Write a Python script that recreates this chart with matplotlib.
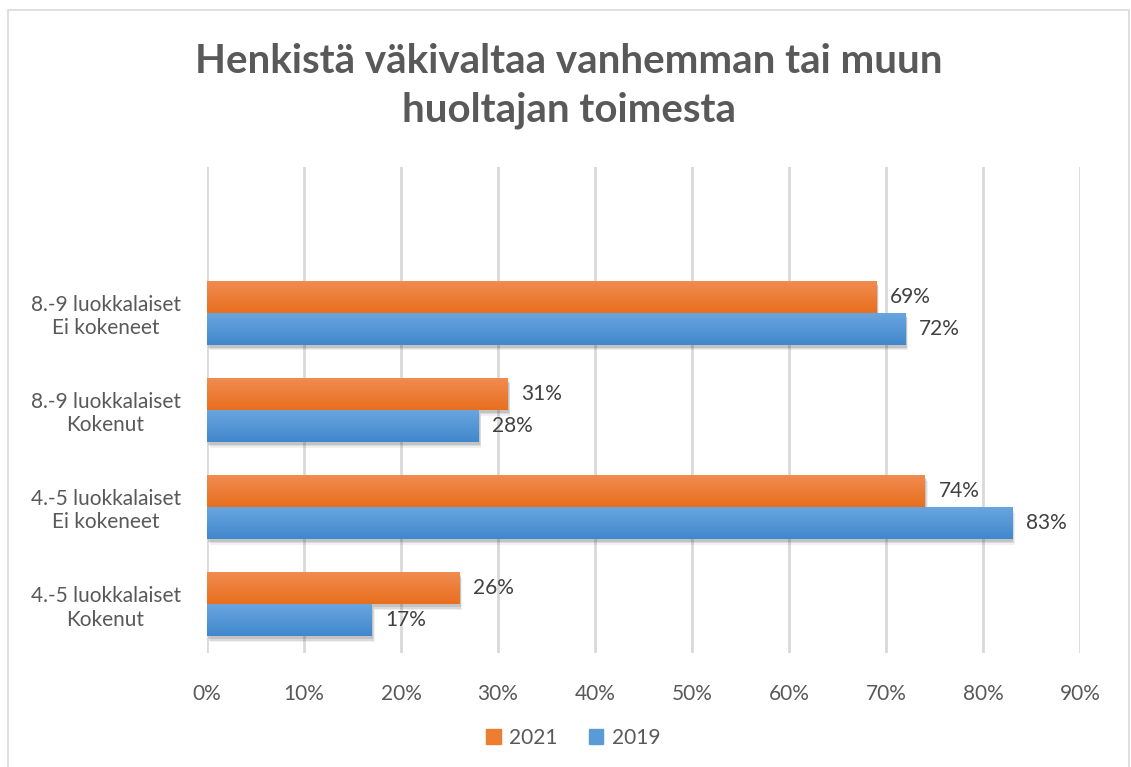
import numpy as np
import matplotlib
matplotlib.use('Agg')
import matplotlib.pyplot as plt
import matplotlib.patheffects as pe
from matplotlib.colors import LinearSegmentedColormap
from matplotlib.patches import Rectangle

# Data
categories = ['4.-5 luokkalaiset\nKokenut', '4.-5 luokkalaiset\nEi kokeneet',
              '8.-9 luokkalaiset\nKokenut', '8.-9 luokkalaiset\nEi kokeneet']
values_2021 = [26, 74, 31, 69]
values_2019 = [17, 83, 28, 72]
series_names = ['2021', '2019']
x_ticks = [0, 10, 20, 30, 40, 50, 60, 70, 80, 90]

plt.rcParams['font.family'] = ['Lato', 'DejaVu Sans']

fig = plt.figure(figsize=(11.31, 7.67), dpi=100)
ax = fig.add_axes([207 / 1131, 1 - 653 / 767, (1080 - 207) / 1131, (653 - 167) / 767])

# chart border
fig.patches.append(Rectangle((8 / 1131, -0.02), (1129 - 8) / 1131, 1.02 - 10 / 767,
                             transform=fig.transFigure, fill=False,
                             edgecolor='#D9D9D9', linewidth=1.2))

y = np.arange(len(categories))
h = 0.33

orange_cmap = LinearSegmentedColormap.from_list('o', ['#E86F1E', '#F18C52'])
blue_cmap = LinearSegmentedColormap.from_list('b', ['#4187CD', '#6AA7DF'])
grad = np.linspace(0, 1, 50).reshape(-1, 1)

# soft-ish shadow: a few stacked faint shadows
shadow = [pe.SimplePatchShadow(offset=(2, -4), alpha=0.08, shadow_rgbFace='#404040'),
          pe.SimplePatchShadow(offset=(1.5, -3), alpha=0.12, shadow_rgbFace='#404040'),
          pe.SimplePatchShadow(offset=(1, -2), alpha=0.15, shadow_rgbFace='#404040'),
          pe.Normal()]

bars21 = ax.barh(y + h / 2, values_2021, height=h, color='#ED7D31', path_effects=shadow, zorder=3)
bars19 = ax.barh(y - h / 2, values_2019, height=h, color='#5B9BD5', path_effects=shadow, zorder=3)

# gradient fill clipped to each bar
for bars, cmap in [(bars21, orange_cmap), (bars19, blue_cmap)]:
    for b in bars:
        x0, y0 = b.get_x(), b.get_y()
        im = ax.imshow(grad, cmap=cmap, aspect='auto', origin='lower',
                       extent=[x0, x0 + b.get_width(), y0, y0 + b.get_height()], zorder=4)
        im.set_clip_path(b)

# data labels
for bars, vals in [(bars21, values_2021), (bars19, values_2019)]:
    for b, v in zip(bars, vals):
        ax.text(v + 1.4, b.get_y() + b.get_height() / 2, f'{v}%', va='center', ha='left',
                fontsize=15, color='#404040', zorder=5)

ax.set_xlim(0, 90)
ax.set_ylim(-0.5, 4.5)
ax.set_xticks(x_ticks)
ax.set_xticklabels([f'{t}%' for t in x_ticks])
ax.set_yticks(y)
ax.set_yticklabels(categories, ha='center', linespacing=1.2)
ax.tick_params(axis='y', length=0, pad=73, labelsize=15, labelcolor='#595959')
ax.tick_params(axis='x', length=0, pad=22, labelsize=15, labelcolor='#595959')
ax.grid(axis='x', color='#D9D9D9', linewidth=2)
ax.set_axisbelow(True)
for s in ax.spines.values():
    s.set_visible(False)

fig.text(0.503, 1 - 86 / 767, 'Henkistä väkivaltaa vanhemman tai muun\nhuoltajan toimesta',
         ha='center', va='center', fontsize=29, fontweight='bold', color='#595959',
         linespacing=1.36)

handles = [Rectangle((0, 0), 1, 1, color='#ED7D31'), Rectangle((0, 0), 1, 1, color='#5B9BD5')]
fig.legend(handles, series_names, loc='center', bbox_to_anchor=(573 / 1131, 1 - 738 / 767),
           ncol=2, frameon=False, fontsize=15, handlelength=0.7, handleheight=0.7,
           handletextpad=0.4, columnspacing=1.5, labelcolor='#595959')

fig.savefig('out.png', dpi=100)
